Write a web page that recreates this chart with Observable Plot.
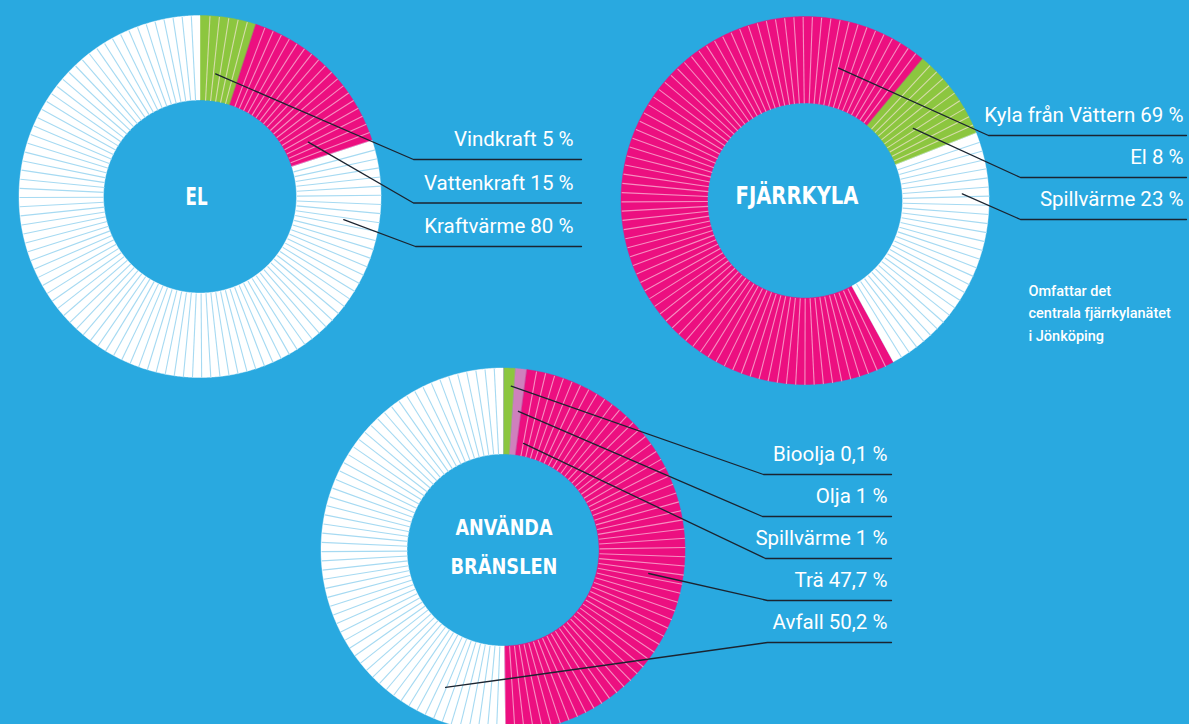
<!DOCTYPE html>
<html><head><meta charset="utf-8">
<script src="https://cdn.jsdelivr.net/npm/d3@7"></script>
<script src="https://cdn.jsdelivr.net/npm/@observablehq/plot@0.6"></script>
<style>
html,body{margin:0;padding:0;background:#29a9e0;}
#chart{width:1189px;height:724px;overflow:hidden;}
</style></head><body><div id="chart"></div>
<script>
// ---- Data ----
const elCategories = ["Vindkraft", "Vattenkraft", "Kraftvärme"];
const elValues = [5, 15, 80];
const elLabels = ["Vindkraft 5 %", "Vattenkraft 15 %", "Kraftvärme 80 %"];

const kylaCategories = ["Kyla från Vättern", "El", "Spillvärme"];
const kylaValues = [69, 8, 23];
const kylaLabels = ["Kyla från Vättern 69 %", "El 8 %", "Spillvärme 23 %"];

const fuelCategories = ["Bioolja", "Olja", "Spillvärme", "Trä", "Avfall"];
const fuelValues = [0.1, 1, 1, 47.7, 50.2];
const fuelLabels = ["Bioolja 0,1 %", "Olja 1 %", "Spillvärme 1 %", "Trä 47,7 %", "Avfall 50,2 %"];

const titleLines = [["EL"], ["FJÄRRKYLA"], ["ANVÄNDA", "BRÄNSLEN"]];
const noteLines = ["Omfattar det", "centrala fjärrkylanätet", "i Jönköping"];

// ---- Styles / layout ----
const W = 1189, H = 724;
const BG = "#29a9e0", PINK = "#ec0f80", GREEN = "#8cc63f", WHITE = "#ffffff", MAUVE = "#cf80bd", GRAY = "#9d9cc2";
const SEP = {[PINK]: "#f68fc1", [GREEN]: "#d6dcaa", [WHITE]: "#a6daf2", [MAUVE]: "#e8b4da", [GRAY]: null};
const STEP = 2.9;

const donuts = [
  {values: elValues, labels: elLabels, titles: titleLines[0],
   cx: 200, cy: 196.5, r0: 96.5, r1: 181, start: 0,
   colors: [GREEN, PINK, WHITE],
   anchors: [[7, 124], [63, 121], [99, 145]],
   elbowX: [413, 413, 415], rowY0: 159, rowGap: 43.5, textX: 573, lineEnd: 581,
   titleX: 196, titleY: [204.5], titleW: [22], titleSize: 25},
  {values: kylaValues, labels: kylaLabels, titles: titleLines[1],
   cx: 805, cy: 200.5, r0: 97.5, r1: 184, start: 151.3,
   colors: [PINK, GREEN, WHITE],
   anchors: [[14, 137], [56, 130], [87.4, 157]],
   elbowX: [988, 1020, 1020], rowY0: 135, rowGap: 42, textX: 1183, lineEnd: 1186,
   titleX: 796.5, titleY: [203.5], titleW: [123], titleSize: 25},
  {values: fuelValues, labels: fuelLabels, titles: titleLines[2],
   cx: 503, cy: 550, r0: 96, r1: 182, start: 0,
   colors: [GRAY, GREEN, MAUVE, PINK, WHITE],
   anchors: [[2.7, 164.5], [6.1, 140], [10.6, 109], [99, 147], [202.9, 148.7]],
   elbowX: [763, 762, 765, 767, 767], rowY0: 474, rowGap: 42, textX: 887, lineEnd: 891,
   titleX: 503.5, titleY: [534, 573], titleW: [97, 107], titleSize: 22}
];

const rad = a => a * Math.PI / 180;
const px = (d, a, r) => d.cx + r * Math.sin(rad(a));
const py = (d, a, r) => d.cy - r * Math.cos(rad(a));

const arcPts = [], seps = [], leaderPts = [], labelRows = [], titleRows = [];
donuts.forEach((d, di) => {
  const total = d3.sum(d.values);
  let a = d.start;
  d.values.forEach((v, i) => {
    const span = v / total * 360, a0 = a, a1 = a + span;
    a = a1;
    const id = di + "-" + i, color = d.colors[i];
    const n = Math.max(2, Math.ceil(span / 0.5));
    for (let k = 0; k <= n; k++) {
      const t = a0 + (a1 - a0) * k / n;
      arcPts.push({id, color, xi: px(d, t, d.r0), yi: py(d, t, d.r0), xo: px(d, t, d.r1), yo: py(d, t, d.r1)});
    }
    const m = Math.round(span / STEP);
    if (SEP[color]) for (let k = 1; k < m; k++) {
      const t = a0 + span * k / m;
      seps.push({color: SEP[color], x1: px(d, t, d.r0), y1: py(d, t, d.r0), x2: px(d, t, d.r1), y2: py(d, t, d.r1)});
    }
    const rowY = d.rowY0 + i * d.rowGap;
    const [aa, rr] = d.anchors[i];
    leaderPts.push({id, x: px(d, aa, rr), y: py(d, aa, rr)});
    leaderPts.push({id, x: d.elbowX[i], y: rowY});
    leaderPts.push({id, x: d.lineEnd, y: rowY});
    labelRows.push({x: d.textX, y: rowY - 13.5, text: d.labels[i]});
  });
  d.titles.forEach((t, j) => titleRows.push({x: d.titleX, y: d.titleY[j], text: t, size: d.titleSize, w: d.titleW[j]}));
});
const noteRows = noteLines.map((t, i) => ({x: 1028, y: 295 + i * 22.5, text: t}));

const chart = Plot.plot({
  width: W, height: H, margin: 0,
  x: {domain: [0, W], range: [0, W], axis: null},
  y: {domain: [0, H], range: [0, H], axis: null},
  color: {type: "identity"},
  style: {background: BG},
  marks: [
    Plot.area(arcPts, {x1: "xi", y1: "yi", x2: "xo", y2: "yo", z: "id", fill: "color", stroke: "color", strokeWidth: 0.4}),
    Plot.link(seps, {x1: "x1", y1: "y1", x2: "x2", y2: "y2", stroke: "color", strokeWidth: 1.1}),
    Plot.line(leaderPts, {x: "x", y: "y", z: "id", stroke: "#1b2430", strokeWidth: 1.3}),
    Plot.text(labelRows, {x: "x", y: "y", text: "text", textAnchor: "end", lineAnchor: "bottom",
      fill: "white", fontSize: 20.5, fontFamily: "Roboto, sans-serif"}),
    Plot.text(titleRows, {x: "x", y: "y", text: "text", lineAnchor: "bottom", fill: "white",
      fontSize: "size", fontWeight: 700, fontFamily: "'DejaVu Sans Condensed', 'Liberation Sans Narrow', sans-serif"}),
    Plot.text(noteRows, {x: "x", y: "y", text: "text", textAnchor: "start", lineAnchor: "bottom",
      fill: "white", fontSize: 14.5, fontWeight: 500, fontFamily: "Roboto, sans-serif"})
  ]
});
// fit the condensed title lettering to the reference widths
const titleGroup = chart.querySelector('g[font-family*="DejaVu Sans Condensed"]');
if (titleGroup) titleGroup.querySelectorAll("text").forEach((t, i) => {
  t.setAttribute("textLength", titleRows[i].w);
  t.setAttribute("lengthAdjust", "spacingAndGlyphs");
});
document.getElementById("chart").appendChild(chart);
</script></body></html>
